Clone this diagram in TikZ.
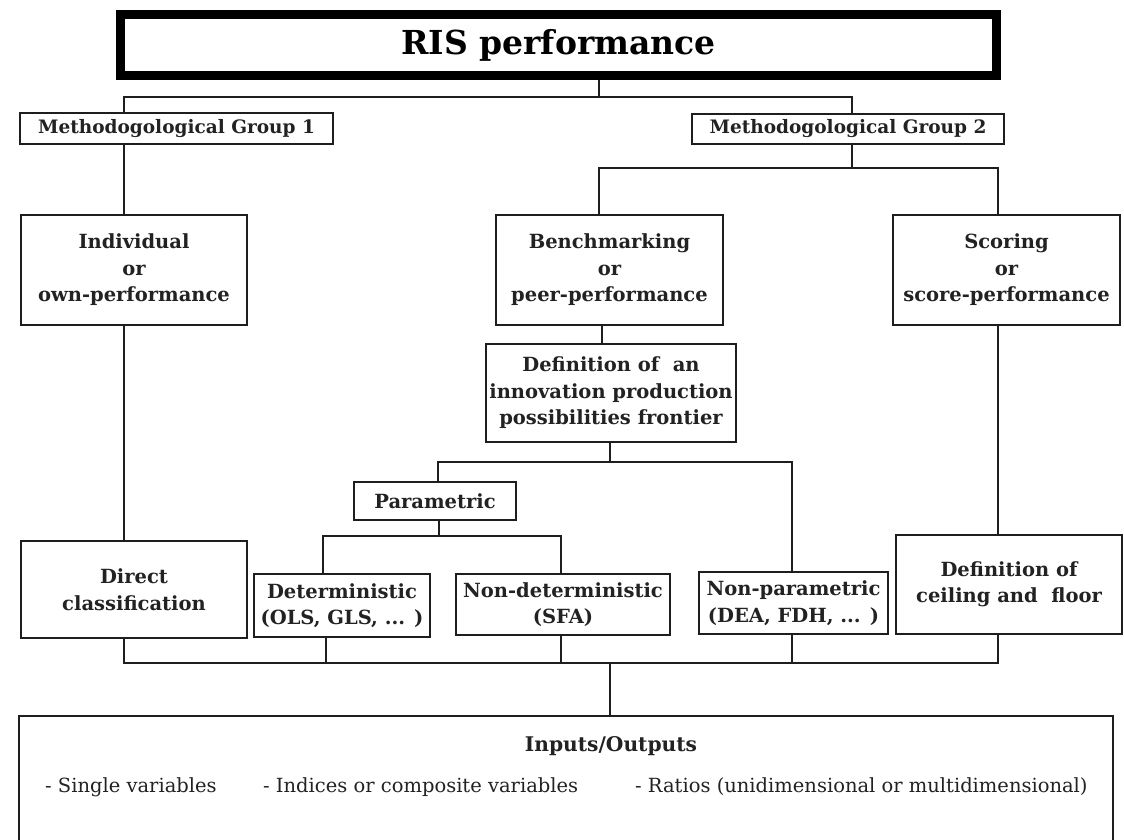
\documentclass[tikz,border=0pt]{standalone}
\usepackage{fontspec}
\setmainfont{DejaVu Serif}
\definecolor{linec}{HTML}{1E1E1E}
\definecolor{textc}{HTML}{222222}
\begin{document}
\begin{tikzpicture}[x=1bp,y=-1bp,
  box/.style={draw=linec, line width=2bp, fill=white, align=center, inner sep=0pt,
    text=textc, font=\fontsize{19.5bp}{26.5bp}\selectfont\bfseries},
  mgbox/.style={box, font=\fontsize{18.5bp}{22bp}\selectfont\bfseries},
  titlebox/.style={draw=black, line width=9bp, fill=white, inner sep=0pt,
    text=black, font=\fontsize{33bp}{36bp}\selectfont\bfseries},
  conn/.style={draw=linec, line width=2bp},
  plain/.style={inner sep=0pt, text=textc, font=\fontsize{19.5bp}{22bp}\selectfont},
  bold/.style={inner sep=0pt, text=textc, font=\fontsize{20.2bp}{22bp}\selectfont\bfseries}]
\useasboundingbox[fill=white] (0,0) rectangle (1124,840);

% nodes
\node[titlebox, minimum width=876bp, minimum height=61bp] (title) at (558.5,45) {RIS performance};
\node[mgbox, minimum width=313bp, minimum height=31bp] (mg1) at (176.5,128.5) {Methodogological Group 1};
\node[mgbox, minimum width=312bp, minimum height=30bp] (mg2) at (848,128.5) {Methodogological Group 2};
\node[box, minimum width=226bp, minimum height=110bp] (ind) at (134,270) {Individual\\or\\own-performance};
\node[box, minimum width=227bp, minimum height=110bp] (bench) at (609.5,270) {Benchmarking\\or\\peer-performance};
\node[box, minimum width=227bp, minimum height=110bp] (score) at (1006.5,270) {Scoring\\or\\score-performance};
\node[box, minimum width=250bp, minimum height=98bp] (def) at (611,393) {Definition of\ \ an\\innovation production\\possibilities frontier};
\node[box, minimum width=162bp, minimum height=38bp] (param) at (435,501) {Parametric};
\node[box, minimum width=176bp, minimum height=63bp] (det) at (342,605.5) {Deterministic\\(OLS, GLS, ... )};
\node[box, minimum width=214bp, minimum height=61bp] (nondet) at (563,604.5) {Non-deterministic\\(SFA)};
\node[box, minimum width=189bp, minimum height=62bp] (nonpar) at (793.5,603) {Non-parametric\\(DEA, FDH, ... )};
\node[box, minimum width=226bp, minimum height=97bp] (direct) at (134,589.5) {Direct\\classification};
\node[box, minimum width=226bp, minimum height=99bp] (ceil) at (1009,584.5) {Definition of\\ceiling and\ \ floor};
\node[draw=linec, line width=2bp, minimum width=1094bp, minimum height=130bp, inner sep=0pt] (io) at (566,781) {};
\node[bold] (iot) at (611,746) {Inputs/Outputs};
\node[plain, anchor=west] (l1) at (45,787) {- Single variables};
\node[plain, anchor=west] (l2) at (263,787) {- Indices or composite variables};
\node[plain, anchor=west] (l3) at (635,787) {- Ratios (unidimensional or multidimensional)};

% junctions
\coordinate (j0) at (599,97);
\coordinate (m1) at (124,97);
\coordinate (m2) at (852,97);
\coordinate (g2) at (852,168);
\coordinate (bj) at (599,168);
\coordinate (sj) at (998,168);
\coordinate (dj) at (602,335);
\coordinate (pj) at (610,462);
\coordinate (pl) at (438,462);
\coordinate (pr) at (792,462);
\coordinate (qj) at (439,536);
\coordinate (ql) at (323,536);
\coordinate (qr) at (561,536);
\coordinate (b1) at (124,663);
\coordinate (b2) at (326,663);
\coordinate (b3) at (561,663);
\coordinate (b4) at (792,663);
\coordinate (b5) at (998,663);
\coordinate (bc) at (610,663);

% connectors
\draw[conn] (title.south -| j0) -- (j0);
\draw[conn] (mg1.north -| m1) -- (m1) -- (m2) -- (mg2.north -| m2);
\draw[conn] (mg1.south -| m1) -- (ind.north -| m1);
\draw[conn] (ind.south -| m1) -- (direct.north -| m1);
\draw[conn] (mg2.south -| g2) -- (g2);
\draw[conn] (bench.north -| bj) -- (bj) -- (sj) -- (score.north -| sj);
\draw[conn] (bench.south -| dj) -- (def.north -| dj);
\draw[conn] (def.south -| pj) -- (pj);
\draw[conn] (param.north -| pl) -- (pl) -- (pr) -- (nonpar.north -| pr);
\draw[conn] (param.south -| qj) -- (qj);
\draw[conn] (det.north -| ql) -- (ql) -- (qr) -- (nondet.north -| qr);
\draw[conn] (score.south -| sj) -- (ceil.north -| sj);
\draw[conn] (direct.south -| b1) -- (b1) -- (b5) -- (ceil.south -| b5);
\draw[conn] (det.south -| b2) -- (b2);
\draw[conn] (nondet.south -| b3) -- (b3);
\draw[conn] (nonpar.south -| b4) -- (b4);
\draw[conn] (bc) -- (io.north -| bc);
\end{tikzpicture}
\end{document}
